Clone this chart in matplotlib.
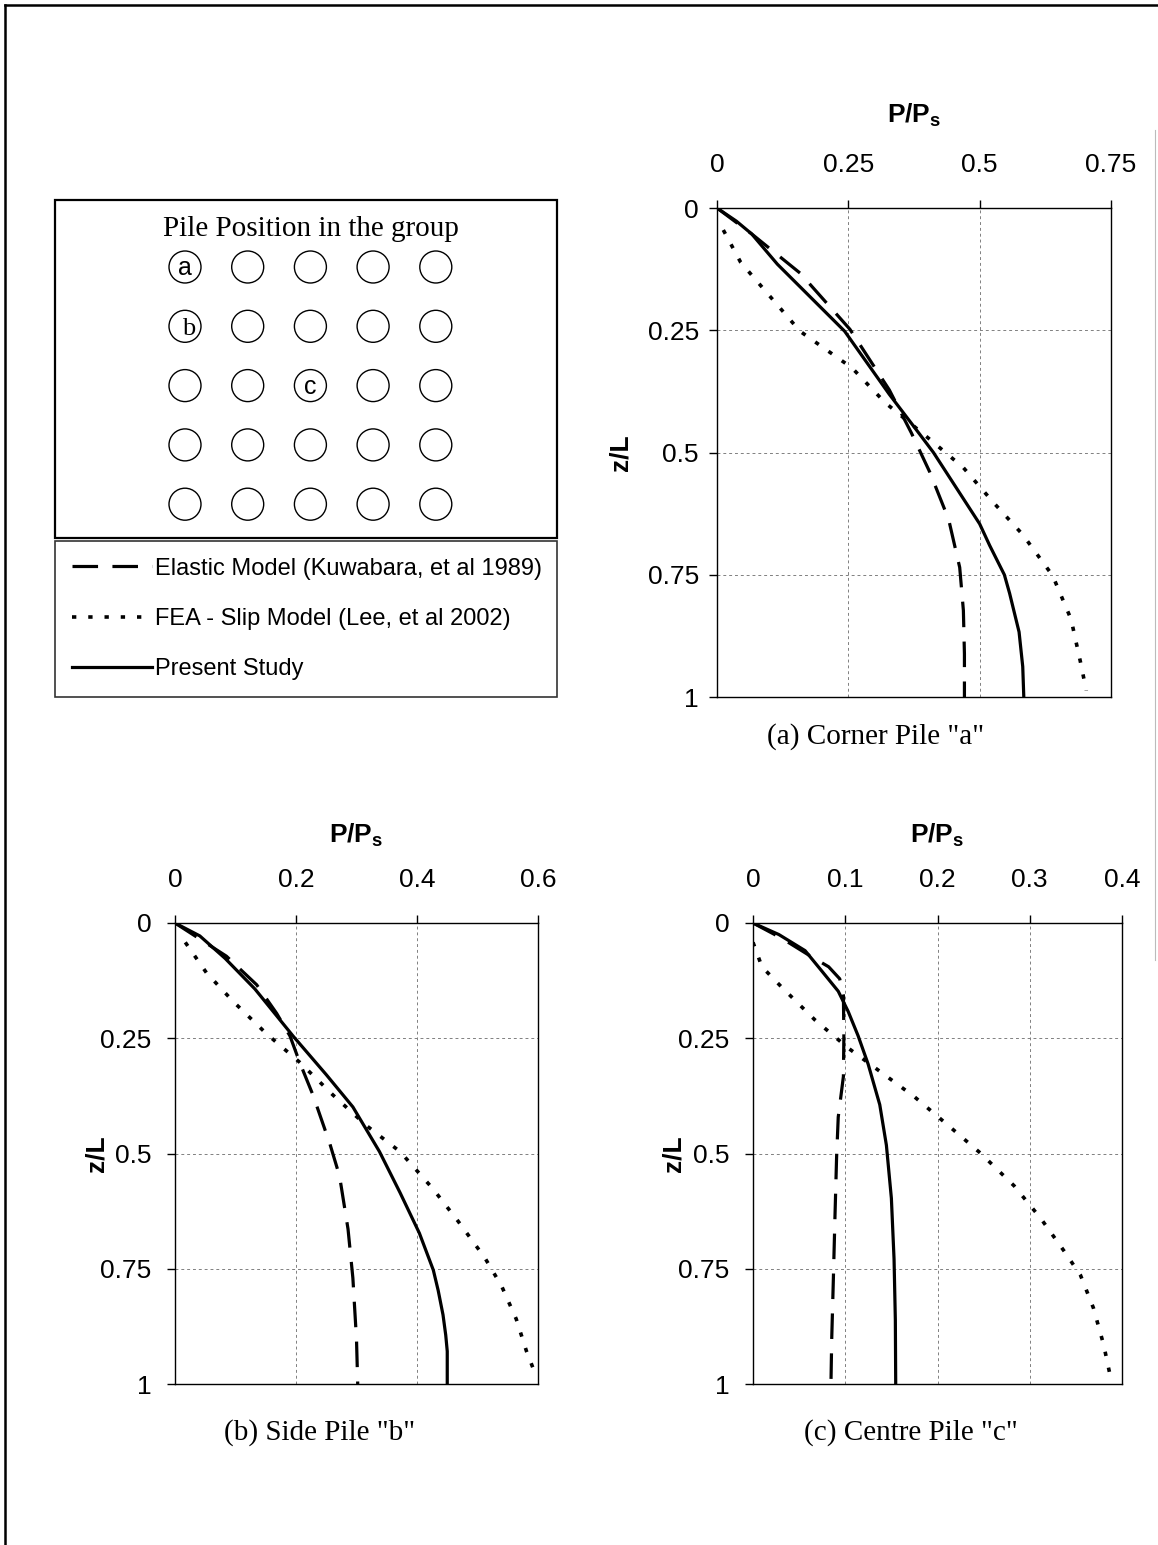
import matplotlib
matplotlib.use("Agg")
import matplotlib.pyplot as plt
from matplotlib.patches import Circle, Rectangle
import numpy as np

plt.rcParams['font.family'] = ['Liberation Sans', 'DejaVu Sans']
plt.rcParams['mathtext.fontset'] = 'custom'
plt.rcParams['mathtext.rm'] = 'Liberation Sans'
plt.rcParams['mathtext.bf'] = 'Liberation Sans:bold'

# ---- data (z/L, P/Ps) ----
# (a) corner pile
a_solid_z = [0, 0.027, 0.053, 0.115, 0.252, 0.381, 0.460, 0.50, 0.646, 0.69, 0.75, 0.788, 0.867, 0.938, 1.0]
a_solid_p = [0, 0.037, 0.066, 0.115, 0.243, 0.328, 0.384, 0.412, 0.50, 0.519, 0.547, 0.557, 0.575, 0.582, 0.584]
a_elas_z = [0, 0.053, 0.133, 0.248, 0.372, 0.460, 0.540, 0.637, 0.735, 0.823, 0.912, 1.0]
a_elas_p = [0, 0.066, 0.158, 0.253, 0.328, 0.370, 0.405, 0.441, 0.462, 0.469, 0.471, 0.471]
a_fea_z = [0.045, 0.111, 0.252, 0.327, 0.398, 0.442, 0.473, 0.531, 0.602, 0.668, 0.752, 0.841, 0.929, 0.987]
a_fea_p = [0.012, 0.045, 0.158, 0.257, 0.320, 0.370, 0.405, 0.469, 0.526, 0.582, 0.639, 0.674, 0.692, 0.703]

# (b) side pile
b_solid_z = [0, 0.028, 0.077, 0.143, 0.245, 0.329, 0.399, 0.496, 0.585, 0.673, 0.753, 0.797, 0.850, 0.894, 0.929, 1.0]
b_solid_p = [0, 0.041, 0.083, 0.132, 0.195, 0.250, 0.294, 0.338, 0.372, 0.404, 0.427, 0.435, 0.443, 0.4475, 0.450, 0.450]
b_elas_z = [0, 0.072, 0.134, 0.196, 0.245, 0.302, 0.373, 0.479, 0.549, 0.664, 0.770, 0.903, 1.0]
b_elas_p = [0, 0.085, 0.135, 0.168, 0.190, 0.206, 0.228, 0.256, 0.272, 0.286, 0.294, 0.300, 0.302]
b_fea_z = [0.042, 0.108, 0.170, 0.240, 0.302, 0.373, 0.439, 0.496, 0.576, 0.647, 0.726, 0.788, 0.859, 0.929, 0.973]
b_fea_p = [0.017, 0.052, 0.096, 0.151, 0.206, 0.261, 0.316, 0.372, 0.426, 0.468, 0.512, 0.540, 0.564, 0.581, 0.594]

# (c) centre pile
c_solid_z = [0, 0.025, 0.060, 0.104, 0.148, 0.192, 0.245, 0.306, 0.394, 0.482, 0.597, 0.729, 0.861, 1.0]
c_solid_p = [0, 0.028, 0.0565, 0.0745, 0.0924, 0.1032, 0.114, 0.1248, 0.1374, 0.1446, 0.150, 0.1529, 0.1543, 0.1547]
c_elas_z = [0, 0.033, 0.069, 0.095, 0.121, 0.157, 0.245, 0.333, 0.421, 0.509, 0.641, 0.773, 0.905, 1.0]
c_elas_p = [0, 0.031, 0.060, 0.082, 0.094, 0.098, 0.0985, 0.098, 0.0924, 0.0906, 0.0888, 0.0871, 0.0853, 0.0845]
c_fea_z = [0.042, 0.095, 0.139, 0.210, 0.271, 0.324, 0.377, 0.438, 0.500, 0.570, 0.641, 0.711, 0.764, 0.835, 0.914, 0.980]
c_fea_p = [0, 0.0097, 0.031, 0.067, 0.103, 0.139, 0.175, 0.211, 0.247, 0.283, 0.312, 0.337, 0.355, 0.369, 0.380, 0.387]

y_ticks = [0, 0.25, 0.5, 0.75, 1]
y_ticklabels = ['0', '0.25', '0.5', '0.75', '1']
a_xticks = [0, 0.25, 0.5, 0.75]
a_xticklabels = ['0', '0.25', '0.5', '0.75']
b_xticks = [0, 0.2, 0.4, 0.6]
b_xticklabels = ['0', '0.2', '0.4', '0.6']
c_xticks = [0, 0.1, 0.2, 0.3, 0.4]
c_xticklabels = ['0', '0.1', '0.2', '0.3', '0.4']

legend_labels = ['Elastic Model (Kuwabara, et al 1989)',
                 'FEA - Slip Model (Lee, et al 2002)',
                 'Present Study']

n_rows, n_cols = 5, 5
pile_marks = {(0, 0): 'a', (1, 0): 'b', (2, 2): 'c'}

W, H = 1158, 1545
fig = plt.figure(figsize=(W / 100, H / 100), dpi=100)

# overlay in pixel coords for the diagram box, captions and frame
ov = fig.add_axes([0, 0, 1, 1])
ov.set_xlim(0, W)
ov.set_ylim(H, 0)
ov.axis('off')

ov.plot([5, 5], [H, 5], color='k', lw=1.8)
ov.plot([5, W], [5, 5], color='k', lw=1.8)
ov.plot([1155, 1155], [130, 960], color='#bbbbbb', lw=0.8)

ov.add_patch(Rectangle((55, 200), 502, 338, fill=False, ec='k', lw=1.6))
ov.text(311, 229, 'Pile Position in the group', family='Liberation Serif',
        fontsize=21, ha='center', va='center')
for r in range(n_rows):
    for c in range(n_cols):
        cx = 185 + 62.7 * c
        cy = 267 + 59.3 * r
        ov.add_patch(Circle((cx, cy), 16, fill=False, ec='k', lw=1.0))
        if (r, c) in pile_marks:
            lab = pile_marks[(r, c)]
            if lab == 'b':
                ov.text(cx + 4, cy + 3, lab, family='Liberation Serif',
                        fontsize=19, ha='center', va='center')
            else:
                ov.text(cx, cy + 1, lab, fontsize=18, ha='center', va='center')

ov.text(876, 737, '(a) Corner Pile "a"', family='Liberation Serif',
        fontsize=21, ha='center', va='center')
ov.text(320, 1433, '(b) Side Pile "b"', family='Liberation Serif',
        fontsize=21, ha='center', va='center')
ov.text(911, 1433, '(c) Centre Pile "c"', family='Liberation Serif',
        fontsize=21, ha='center', va='center')


def px_axes(left, top, right, bottom):
    return fig.add_axes([left / W, 1 - bottom / H, (right - left) / W, (bottom - top) / H])


dash_style = dict(color='k', lw=2.3, linestyle=(0, (8, 4.5)))
dot_style = dict(color='k', lw=2.6, linestyle=(0, (1.2, 3.3)))
solid_style = dict(color='k', lw=2.3, linestyle='-')


def setup(ax, xticks, xlabels, xmax, ypad, ylab_x):
    ax.set_xlim(0, xmax)
    ax.set_ylim(1, 0)
    ax.xaxis.tick_top()
    ax.set_xticks(xticks)
    ax.set_xticklabels(xlabels)
    ax.set_yticks(y_ticks)
    ax.set_yticklabels(y_ticklabels)
    ax.tick_params(axis='both', direction='out', length=6, width=1, labelsize=19)
    ax.tick_params(axis='x', pad=16, top=True, bottom=False)
    ax.tick_params(axis='y', pad=ypad)
    ax.grid(True, color='gray', lw=0.7, linestyle=(0, (3, 3)))
    for s in ax.spines.values():
        s.set_linewidth(1.0)
    ax.set_xlabel(r'$\mathbf{P/P_s}$', fontsize=19)
    ax.xaxis.set_label_position('top')
    ax.xaxis.set_label_coords(0.5, 1.19)
    ax.xaxis.label.set_va('center')
    ax.set_ylabel('z/L', fontsize=19, fontweight='bold')
    ax.yaxis.set_label_coords(ylab_x, 0.5)
    ax.yaxis.label.set_va('center')


ax_a = px_axes(717, 208, 1111, 697)
la, = ax_a.plot(a_elas_p, a_elas_z, **dash_style)
lb, = ax_a.plot(a_fea_p, a_fea_z, **dot_style)
lc, = ax_a.plot(a_solid_p, a_solid_z, **solid_style)
setup(ax_a, a_xticks, a_xticklabels, 0.75, 7, -0.245)

ax_b = px_axes(175, 923, 538, 1384)
ax_b.plot(b_elas_p, b_elas_z, **dash_style)
ax_b.plot(b_fea_p, b_fea_z, **dot_style)
ax_b.plot(b_solid_p, b_solid_z, **solid_style)
setup(ax_b, b_xticks, b_xticklabels, 0.6, 11, -0.215)

ax_c = px_axes(753, 923, 1122, 1384)
ax_c.plot(c_elas_p, c_elas_z, **dash_style)
ax_c.plot(c_fea_p, c_fea_z, **dot_style)
ax_c.plot(c_solid_p, c_solid_z, **solid_style)
setup(ax_c, c_xticks, c_xticklabels, 0.4, 11, -0.215)

leg_top = 1 - 541 / H
leg_h = (706 - 541) / H
leg = fig.legend([la, lb, lc], legend_labels, loc='upper left',
                 bbox_to_anchor=(55 / W, leg_top - leg_h, 502 / W, leg_h),
                 mode='expand', fontsize=17, frameon=True, fancybox=False,
                 borderaxespad=0, borderpad=0.7, labelspacing=1.2,
                 handlelength=3.4, handletextpad=0.12)
leg.get_frame().set_edgecolor('k')
leg.get_frame().set_linewidth(1.2)

fig.savefig('out.png', dpi=100)
